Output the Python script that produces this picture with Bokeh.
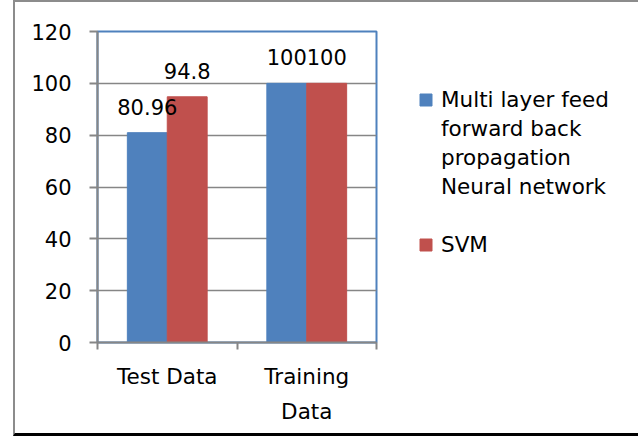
from bokeh.plotting import figure
from bokeh.models import (ColumnDataSource, FixedTicker, Legend, LegendItem, LabelSet, Range1d)
from bokeh.core.properties import value
from bokeh.transform import dodge
from bokeh.embed import file_html
from bokeh.resources import INLINE

categories = ["Test Data", "Training Data"]
category_labels = ["Test Data", "Training\nData"]
mlp = [80.96, 100]
svm = [94.8, 100]
mlp_labels = ["80.96", "100"]
svm_labels = ["94.8", "100"]
series_lines = [["Multi layer feed", "forward back", "propagation", "Neural network"], ["SVM"]]
y_ticks = [0, 20, 40, 60, 80, 100, 120]

centers = [i + 0.5 for i in range(len(categories))]
bounds = [float(i) for i in range(len(categories) + 1)]
src = ColumnDataSource(dict(x=centers, mlp=mlp, svm=svm, mlp_t=mlp_labels, svm_t=svm_labels))

FONT = "DejaVu Sans"
BLUE = "#4f81bd"
RED = "#c0504d"
GRAY = "#868686"
BW = 0.286

p = figure(output_backend="svg", toolbar_location=None, frame_width=279, frame_height=311,
           x_range=Range1d(0, len(categories)), y_range=Range1d(0, 120),
           min_border_left=82, min_border_top=29, min_border_bottom=91, min_border_right=258)
p.styles = {"margin-left": "13px", "border-left": "2px solid #8c8c8c",
            "border-top": "2px solid #8c8c8c", "border-right": "2px solid #8c8c8c",
            "border-bottom": "3px solid black"}

r1 = p.vbar(x=dodge("x", -BW / 2, range=p.x_range), top="mlp", width=BW, source=src,
            fill_color=BLUE, line_color=BLUE)
r2 = p.vbar(x=dodge("x", BW / 2, range=p.x_range), top="svm", width=BW, source=src,
            fill_color=RED, line_color=RED)
# invisible renderer used for continuation lines of the wrapped legend label
r_blank = p.vbar(x=dodge("x", 0, range=p.x_range), top="mlp", width=BW, source=src,
                 fill_alpha=0, line_alpha=0)

lab_style = dict(text_font=value(FONT), text_font_size="21px", text_align="center",
                 text_baseline="alphabetic", y_offset=18, text_color="black")
p.add_layout(LabelSet(x=dodge("x", -BW / 2, range=p.x_range), y="mlp", text="mlp_t",
                      source=src, **lab_style))
p.add_layout(LabelSet(x=dodge("x", BW / 2, range=p.x_range), y="svm", text="svm_t",
                      source=src, **lab_style))

# axes
p.xaxis.ticker = FixedTicker(ticks=centers, minor_ticks=bounds)
p.xaxis.major_label_overrides = {c: l for c, l in zip(centers, category_labels)}
p.xaxis.major_tick_out = 0
p.xaxis.major_tick_in = 0
p.xaxis.minor_tick_out = 7
p.xaxis.minor_tick_in = 0
p.xaxis.minor_tick_line_color = GRAY
p.xaxis.minor_tick_line_width = 2
p.xaxis.axis_line_color = GRAY
p.xaxis.axis_line_width = 2
p.xaxis.major_label_standoff = 14
p.xaxis.major_label_text_font = FONT
p.xaxis.major_label_text_font_size = "21.5px"
p.xaxis.major_label_text_color = "black"
p.xaxis.major_label_text_line_height = 1.42

p.yaxis.ticker = FixedTicker(ticks=y_ticks, minor_ticks=[])
p.yaxis.major_tick_out = 8
p.yaxis.major_tick_in = 0
p.yaxis.major_tick_line_color = GRAY
p.yaxis.major_tick_line_width = 2
p.yaxis.axis_line_color = GRAY
p.yaxis.axis_line_width = 2
p.yaxis.major_label_standoff = 18
p.yaxis.major_label_text_font = FONT
p.yaxis.major_label_text_font_size = "21px"
p.yaxis.major_label_text_color = "black"

p.xgrid.visible = False
p.ygrid.ticker = FixedTicker(ticks=y_ticks)
p.ygrid.grid_line_color = GRAY
p.ygrid.grid_line_width = 1.5

p.outline_line_color = BLUE
p.outline_line_width = 2
p.background_fill_color = "white"
p.border_fill_color = "white"

items = []
for lines, r in zip(series_lines, [r1, r2]):
    items.append(LegendItem(label=lines[0], renderers=[r]))
    for extra in lines[1:]:
        items.append(LegendItem(label=extra, renderers=[r_blank]))
    if r is r1:
        items.append(LegendItem(label=" ", renderers=[r_blank]))

legend = Legend(items=items, location=(42, 85), orientation="vertical",
                label_text_font=FONT, label_text_font_size="21.5px", label_text_color="black",
                glyph_width=15, glyph_height=15, label_height=25,
                label_standoff=8, spacing=4, padding=0, margin=0,
                border_line_color=None, background_fill_alpha=0)
p.add_layout(legend, "right")

open("out.html", "w").write(file_html(p, INLINE))
